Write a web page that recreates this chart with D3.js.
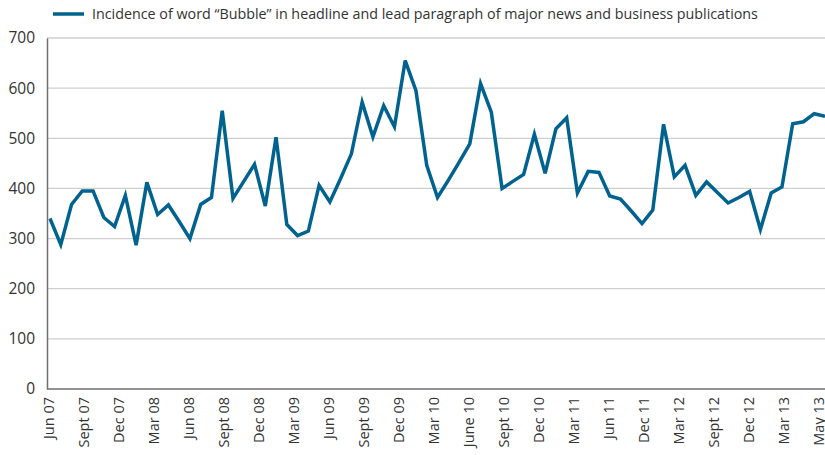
<!DOCTYPE html>
<html>
<head>
<meta charset="utf-8">
<script src="https://cdn.jsdelivr.net/npm/d3@7"></script>
<style>
  body { margin: 0; background: #fff; }
  svg { display: block; font-family: "Open Sans", sans-serif; }
</style>
</head>
<body>
<div id="chart"></div>
<script>
// monthly counts, Jun 07 .. Jun 13
const values = [
  340, 288, 368, 395, 395, 342, 324, 386, 287, 412,
  348, 367, 334, 300, 368, 382, 555, 380, 414, 448,
  365, 502, 328, 306, 315, 406, 373, 420, 469, 572,
  503, 565, 523, 655, 595, 446, 382, 416, 452, 489,
  609, 552, 400, 414, 428, 508, 430, 519, 541, 391,
  434, 432, 385, 379, 355, 330, 357, 528, 423, 446,
  386, 413, 392, 371, 382, 394, 318, 391, 403, 529,
  533, 549, 544
];
const tickLabels = [
  'Jun 07', 'Sept 07', 'Dec 07', 'Mar 08', 'Jun 08', 'Sept 08', 'Dec 08',
  'Mar 09', 'Jun 09', 'Sept 09', 'Dec 09', 'Mar 10', 'June 10', 'Sept 10',
  'Dec 10', 'Mar 11', 'Jun 11', 'Dec 11', 'Mar 12', 'Sept 12', 'Dec 12',
  'Mar 13', 'May 13'
];
const yTicks = [0, 100, 200, 300, 400, 500, 600, 700];
const seriesName = 'Incidence of word \u201cBubble\u201d in headline and lead paragraph of major news and business publications';

const W = 825, H = 455;
const mLeft = 47, mRight = 825, mTop = 38, mBottom = 389;
const blue = '#00628f';

const svg = d3.select('#chart').append('svg').attr('width', W).attr('height', H);

const x = d3.scaleLinear().domain([0, values.length - 1]).range([50, mRight]);
const xLab = d3.scalePoint().domain(tickLabels).range([48.5, 818.5]);
const y = d3.scaleLinear().domain([0, 700]).range([mBottom, mTop]);

// gridlines
svg.append('g')
  .selectAll('line')
  .data(yTicks.filter(d => d > 0))
  .join('line')
  .attr('x1', mLeft).attr('x2', mRight)
  .attr('y1', d => y(d)).attr('y2', d => y(d))
  .attr('stroke', '#cfcfcf').attr('stroke-width', 1.3);

// y axis
const yAxis = svg.append('g')
  .attr('transform', `translate(${mLeft},0)`)
  .call(d3.axisLeft(y).tickValues(yTicks).tickSize(0).tickPadding(12));
yAxis.select('.domain').attr('stroke', '#6e6e6e').attr('stroke-width', 1.5);
yAxis.selectAll('text').attr('font-size', 15.5).attr('fill', '#333').attr('font-family', '"Open Sans", sans-serif');

// x axis
const xAxis = svg.append('g')
  .attr('transform', `translate(0,${mBottom})`)
  .call(d3.axisBottom(xLab).tickSize(0).tickPadding(0));
xAxis.select('.domain').remove();
xAxis.append('line')
  .attr('x1', mLeft).attr('x2', mRight)
  .attr('stroke', '#6e6e6e').attr('stroke-width', 1.5);
xAxis.selectAll('.tick text')
  .attr('font-size', 14.5).attr('fill', '#333').attr('font-family', '"Open Sans", sans-serif')
  .attr('text-anchor', 'end')
  .attr('y', 0)
  .attr('dy', '0.35em')
  .attr('transform', 'translate(0,8) rotate(-90)');

// line
const line = d3.line().x((d, i) => x(i)).y(d => y(d));
svg.append('path')
  .datum(values)
  .attr('d', line)
  .attr('fill', 'none')
  .attr('stroke', blue)
  .attr('stroke-width', 3.5)
  .attr('stroke-linejoin', 'miter');

// legend
const lg = svg.append('g').attr('transform', 'translate(53,14)');
lg.append('line').attr('x1', 0).attr('x2', 31).attr('stroke', blue).attr('stroke-width', 3.5);
lg.append('text')
  .attr('x', 39).attr('dy', '0.35em')
  .attr('font-size', 14.3).attr('fill', '#333')
  .text(seriesName);
</script>
</body>
</html>
